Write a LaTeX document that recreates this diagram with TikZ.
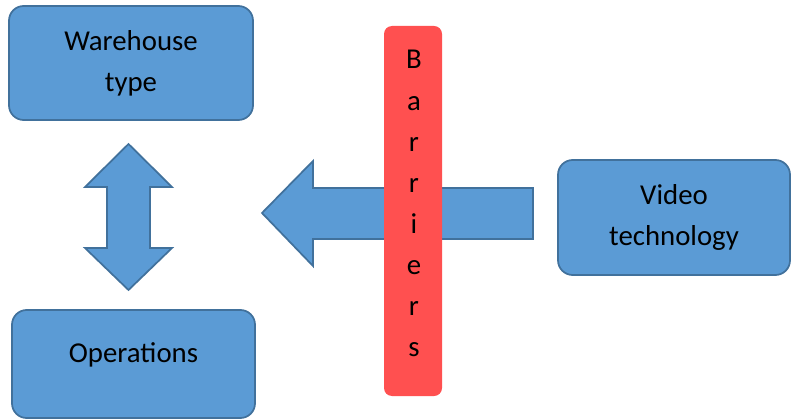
\documentclass[tikz,border=0pt]{standalone}
\usepackage{fontspec}
\setmainfont{Carlito}
\usetikzlibrary{positioning}
\definecolor{boxblue}{RGB}{91,155,213}
\definecolor{boxedge}{RGB}{65,113,156}
\definecolor{barred}{RGB}{255,80,80}
\tikzset{
  box/.style={draw=boxedge, fill=boxblue, line width=1.3pt, rounded corners=11pt, align=center, inner sep=0},
  blockarrow/.style={draw=boxedge, fill=boxblue, line width=1.3pt, line join=miter},
  barrier/.style={fill=barred, rounded corners=6pt, minimum width=43.5pt, minimum height=277.5pt, inner sep=0}
}
\newcommand{\drawbox}{\node[box]}

\begin{document}
\begin{tikzpicture}[x=0.75pt, y=-0.75pt, font=\fontsize{21.6}{30.75}\selectfont]
	\useasboundingbox (0,0) rectangle (791,420);

	\drawbox[minimum width=183pt, minimum height=85.5pt] (ware) at (131,63) {Warehouse\\type};
	\drawbox[minimum width=182.25pt, minimum height=81pt, text height=14pt, text depth=17pt] (ops) at (133.5,364) {Operations};
	\drawbox[minimum width=174pt, minimum height=86.25pt] (video) at (674,217.5) {Video\\technology};

	% two way arrow between the left boxes
	\draw[blockarrow] (128.5,144) -- (172,187) -- (150,187) -- (150,248) -- (172,248)
		-- (128.5,290) -- (85,248) -- (107,248) -- (107,187) -- (85,187) -- cycle;
	% arrow pointing left, under the bar
	\draw[blockarrow] (262,213) -- (313,161) -- (313,188) -- (533,188) -- (533,239)
		-- (313,239) -- (313,266) -- cycle;

	\node[barrier] (bar) at (413,211) {};
	\foreach \ch [count=\i] in {B,a,r,r,i,e,r,s}
		\node[anchor=base, inner sep=0] (ltr\i) at (414,{69+41.1*(\i-1)}) {\ch};

\end{tikzpicture}
\end{document}
